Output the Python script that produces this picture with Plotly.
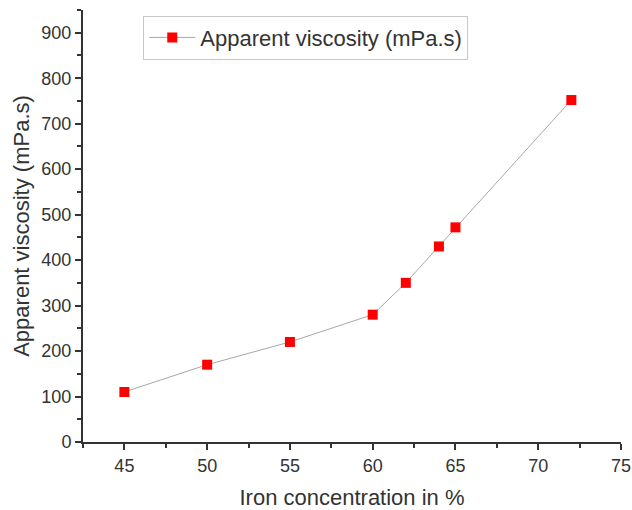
import plotly.graph_objects as go

iron = [45, 50, 55, 60, 62, 64, 65, 72]
viscosity = [110, 170, 220, 280, 350, 430, 472, 752]
x_ticks = [45, 50, 55, 60, 65, 70, 75]
y_ticks = [0, 100, 200, 300, 400, 500, 600, 700, 800, 900]

fig = go.Figure()
fig.add_trace(go.Scatter(
    x=iron, y=viscosity, mode="lines+markers",
    name="Apparent viscosity (mPa.s)",
    line=dict(color="#a8a8a8", width=1),
    marker=dict(symbol="square", color="#ff0000", size=10),
))

fig.update_layout(
    width=632, height=510,
    margin=dict(l=83, r=11, t=10, b=68),
    paper_bgcolor="white", plot_bgcolor="white",
    font=dict(family="Liberation Sans, Arial, sans-serif", color="#333333", size=18),
    showlegend=True,
    legend=dict(
        x=0.112, y=0.987, xanchor="left", yanchor="top",
        bordercolor="#c8c8c8", borderwidth=1, bgcolor="white",
        font=dict(size=22, color="#333333"),
        tracegroupgap=0, itemwidth=46,
    ),
    xaxis=dict(
        range=[42.5, 75], tickvals=x_ticks, showgrid=False, zeroline=False,
        automargin=False,
        showline=True, linecolor="#333333", linewidth=2,
        ticks="outside", ticklen=6, tickwidth=2, tickcolor="#333333",
        minor=dict(ticks="outside", ticklen=4, tickwidth=2, tickcolor="#333333", dtick=2.5, tick0=45),
        title=dict(text="Iron concentration in %", font=dict(size=22), standoff=16),
        tickfont=dict(size=18),
    ),
    yaxis=dict(
        range=[0, 950], tickvals=y_ticks, showgrid=False, zeroline=False,
        automargin=False,
        showline=True, linecolor="#333333", linewidth=2,
        ticks="outside", ticklen=6, tickwidth=2, tickcolor="#333333",
        minor=dict(ticks="outside", ticklen=4, tickwidth=2, tickcolor="#333333", dtick=50, tick0=0),
        title=dict(text="Apparent viscosity (mPa.s)", font=dict(size=22), standoff=6),
        tickfont=dict(size=18),
    ),
)

fig.write_html("out.html")
